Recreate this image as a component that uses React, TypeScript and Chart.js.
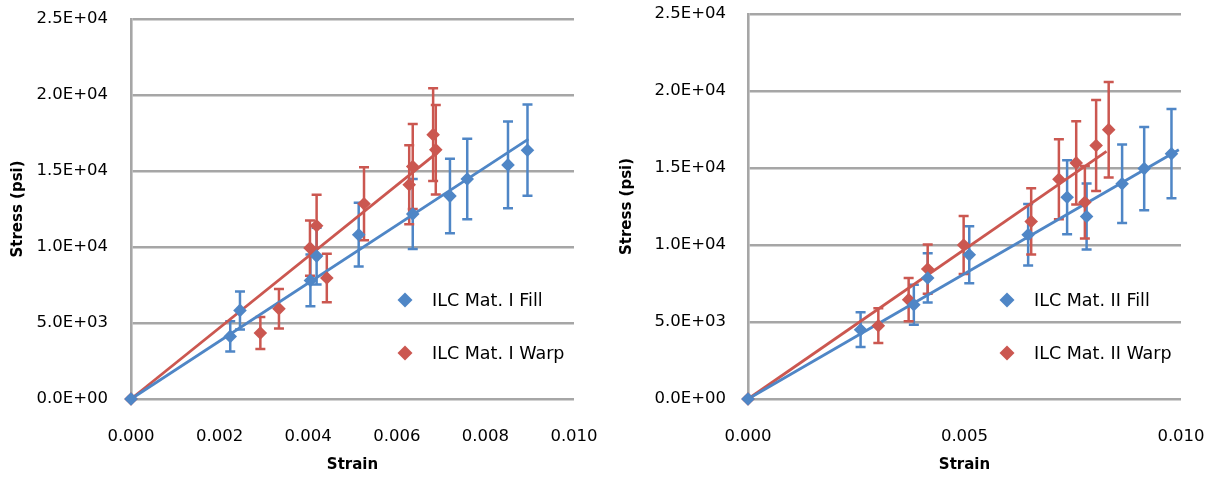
import React, { useEffect, useRef } from 'react';
import { Chart, registerables } from 'chart.js';

Chart.register(...registerables);

// ---------- Data: ILC Mat. I ----------
const m1FillStrain = [0, 0.00224, 0.00246, 0.00405, 0.00419, 0.00514, 0.00636, 0.0072, 0.00759, 0.00851, 0.00895];
const m1FillStress = [0, 4120, 5830, 7800, 9400, 10810, 12170, 13350, 14470, 15400, 16370];
const m1FillErr = [0, 1000, 1250, 1700, 1870, 2100, 2300, 2450, 2650, 2850, 3000];
const m1WarpStrain = [0, 0.00292, 0.00334, 0.00404, 0.00419, 0.00442, 0.00526, 0.00628, 0.00636, 0.00682, 0.00688];
const m1WarpStress = [0, 4340, 5940, 9930, 11400, 7960, 12850, 14100, 15300, 17390, 16400];
const m1WarpErr = [0, 1050, 1300, 1820, 2040, 1600, 2400, 2600, 2800, 3050, 2950];
const m1FillTrendX = [0, 0.00897];
const m1FillTrendY = [0, 17100];
const m1WarpTrendX = [0, 0.0069];
const m1WarpTrendY = [0, 16180];
const m1Labels = ['ILC Mat. I Fill', 'ILC Mat. I Warp'];
const m1XTicks = [0, 0.002, 0.004, 0.006, 0.008, 0.01];

// ---------- Data: ILC Mat. II ----------
const m2FillStrain = [0, 0.0026, 0.00383, 0.00415, 0.00511, 0.00647, 0.00737, 0.00782, 0.00864, 0.00915, 0.00978];
const m2FillStress = [0, 4500, 6120, 7860, 9370, 10670, 13100, 11850, 13980, 14960, 15930];
const m2FillErr = [0, 1130, 1300, 1600, 1850, 2000, 2400, 2150, 2550, 2700, 2900];
const m2WarpStrain = [0, 0.00301, 0.00371, 0.00415, 0.00498, 0.00654, 0.00718, 0.00758, 0.00778, 0.00804, 0.00833];
const m2WarpStress = [0, 4760, 6450, 8440, 10000, 11530, 14270, 15330, 12780, 16460, 17490];
const m2WarpErr = [0, 1130, 1400, 1600, 1880, 2150, 2600, 2700, 2350, 2950, 3100];
const m2FillTrendX = [0, 0.00995];
const m2FillTrendY = [0, 16190];
const m2WarpTrendX = [0, 0.00828];
const m2WarpTrendY = [0, 16080];
const m2Labels = ['ILC Mat. II Fill', 'ILC Mat. II Warp'];
const m2XTicks = [0, 0.005, 0.01];

const yTicks = [0, 5000, 10000, 15000, 20000, 25000];
const xTitle = 'Strain';
const yTitle = 'Stress (psi)';

const BLUE = '#4F86C6';
const RED = '#CB5750';
const GRID = '#A6A6A6';

const fmtExp = (v: number) => {
  if (v === 0) return '0.0E+00';
  const e = Math.floor(Math.log10(Math.abs(v)));
  const m = v / Math.pow(10, e);
  const sign = e < 0 ? '-' : '+';
  return m.toFixed(1) + 'E' + sign + String(Math.abs(e)).padStart(2, '0');
};

const zip = (xs: number[], ys: number[]) => xs.map((x, i) => ({ x, y: ys[i] }));

const errorBarPlugin = {
  id: 'errorBars',
  beforeDatasetsDraw(chart: any) {
    const { ctx } = chart;
    const xs = chart.scales.x;
    const ys = chart.scales.y;
    chart.data.datasets.forEach((ds: any) => {
      if (!ds.errY) return;
      ctx.save();
      ctx.strokeStyle = ds.borderColor;
      ctx.lineWidth = 2.5;
      ds.data.forEach((p: any, j: number) => {
        const e = ds.errY[j];
        if (!e) return;
        const x = xs.getPixelForValue(p.x);
        const y1 = ys.getPixelForValue(p.y + e);
        const y2 = ys.getPixelForValue(p.y - e);
        ctx.beginPath();
        ctx.moveTo(x, y1);
        ctx.lineTo(x, y2);
        ctx.moveTo(x - 5, y1);
        ctx.lineTo(x + 5, y1);
        ctx.moveTo(x - 5, y2);
        ctx.lineTo(x + 5, y2);
        ctx.stroke();
      });
      ctx.restore();
    });
  },
};

const cornerLegendPlugin = {
  id: 'cornerLegend',
  afterDraw(chart: any, _args: any, opts: any) {
    if (!opts || !opts.display) return;
    const { ctx, chartArea } = chart;
    const items = chart.data.datasets.filter((d: any) => d.inLegend);
    items.forEach((d: any, i: number) => {
      const cx = chartArea.right - opts.offsetRight;
      const cy = opts.top + i * opts.rowGap;
      const r = opts.radius;
      ctx.save();
      ctx.fillStyle = d.backgroundColor;
      ctx.beginPath();
      ctx.moveTo(cx, cy - r);
      ctx.lineTo(cx + r, cy);
      ctx.lineTo(cx, cy + r);
      ctx.lineTo(cx - r, cy);
      ctx.closePath();
      ctx.fill();
      ctx.fillStyle = '#000';
      ctx.font = opts.font;
      ctx.textBaseline = 'middle';
      ctx.textAlign = 'left';
      ctx.fillText(d.label, cx + opts.textGap, cy + 1);
      ctx.restore();
    });
  },
};

type Cfg = {
  width: number;
  fill: { x: number[]; y: number[]; e: number[]; tx: number[]; ty: number[] };
  warp: { x: number[]; y: number[]; e: number[]; tx: number[]; ty: number[] };
  labels: string[];
  xTicks: number[];
  area: { left: number; right: number; top: number; bottom: number };
  yLabelGap: number;
  yTitleOffset: number;
  legendOffset: number;
};

const zeroPad = (s: any) => {
  s.paddingTop = 0;
  s.paddingBottom = 0;
  s.paddingLeft = 0;
  s.paddingRight = 0;
};

function buildConfig(c: Cfg): any {
  const H = 478;
  const scatter = (lbl: string, s: any, col: string) => ({
    label: lbl,
    data: zip(s.x, s.y),
    errY: s.e,
    inLegend: true,
    backgroundColor: col,
    borderColor: col,
    pointStyle: 'rectRot',
    pointRadius: 6.8,
    pointHoverRadius: 6.8,
    pointBorderWidth: 0,
    showLine: false,
    clip: false,
    order: 1,
  });
  const trend = (s: any, col: string) => ({
    label: '',
    data: zip(s.tx, s.ty),
    inLegend: false,
    borderColor: col,
    backgroundColor: col,
    borderWidth: 2.8,
    pointRadius: 0,
    showLine: true,
    clip: false,
    order: 2,
  });
  return {
    type: 'scatter',
    data: {
      datasets: [
        scatter(c.labels[0], c.fill, BLUE),
        scatter(c.labels[1], c.warp, RED),
        trend(c.fill, BLUE),
        trend(c.warp, RED),
      ],
    },
    options: {
      responsive: false,
      animation: false,
      events: [],
      layout: { padding: { left: 0, top: c.area.top, right: c.width - c.area.right, bottom: 0 } },
      plugins: {
        legend: { display: false },
        tooltip: { enabled: false },
        cornerLegend: {
          display: true,
          offsetRight: c.legendOffset,
          top: 300,
          rowGap: 53,
          radius: 7.5,
          textGap: 27,
          font: '17.5px "DejaVu Sans"',
        },
      },
      scales: {
        x: {
          type: 'linear',
          min: 0,
          max: 0.01,
          afterFit: (s: any) => {
            s.height = H - c.area.bottom;
            zeroPad(s);
          },
          afterBuildTicks: (s: any) => {
            s.ticks = c.xTicks.map((v) => ({ value: v }));
          },
          grid: { display: false, drawTicks: false },
          border: { display: false },
          ticks: {
            padding: 28,
            color: '#000',
            font: { family: 'DejaVu Sans', size: 16.5 },
            maxRotation: 0,
            callback: (v: any) => Number(v).toFixed(3),
          },
          title: {
            display: true,
            text: xTitle,
            color: '#000',
            font: { family: 'DejaVu Sans', size: 15, weight: 'bold' },
            padding: { top: 0, bottom: 4 },
          },
        },
        y: {
          type: 'linear',
          min: 0,
          max: 25000,
          afterFit: (s: any) => {
            s.width = c.area.left;
            zeroPad(s);
          },
          afterBuildTicks: (s: any) => {
            s.ticks = yTicks.map((v) => ({ value: v }));
          },
          grid: { color: GRID, lineWidth: 2.6, drawTicks: false },
          border: { display: true, color: GRID, width: 2.6 },
          ticks: {
            padding: c.yLabelGap,
            color: '#000',
            font: { family: 'DejaVu Sans', size: 16.5 },
            callback: (v: any) => fmtExp(Number(v)),
          },
          title: {
            display: true,
            text: yTitle,
            color: '#000',
            font: { family: 'DejaVu Sans', size: 15, weight: 'bold' },
            padding: { top: c.yTitleOffset, bottom: 0 },
          },
        },
      },
    },
    plugins: [errorBarPlugin, cornerLegendPlugin],
  };
}

function ChartPanel({ cfg, left }: { cfg: Cfg; left: number }) {
  const ref = useRef<HTMLCanvasElement | null>(null);
  useEffect(() => {
    if (!ref.current) return;
    const chart = new Chart(ref.current, buildConfig(cfg));
    return () => chart.destroy();
  }, [cfg]);
  return (
    <canvas
      ref={ref}
      width={cfg.width}
      height={478}
      style={{ position: 'absolute', left, top: 0, width: cfg.width, height: 478 }}
    />
  );
}

const leftCfg: Cfg = {
  width: 610,
  fill: { x: m1FillStrain, y: m1FillStress, e: m1FillErr, tx: m1FillTrendX, ty: m1FillTrendY },
  warp: { x: m1WarpStrain, y: m1WarpStress, e: m1WarpErr, tx: m1WarpTrendX, ty: m1WarpTrendY },
  labels: m1Labels,
  xTicks: m1XTicks,
  area: { left: 131, right: 574, top: 19, bottom: 399 },
  yLabelGap: 23,
  yTitleOffset: 9.5,
  legendOffset: 169,
};

const rightCfg: Cfg = {
  width: 609,
  fill: { x: m2FillStrain, y: m2FillStress, e: m2FillErr, tx: m2FillTrendX, ty: m2FillTrendY },
  warp: { x: m2WarpStrain, y: m2WarpStress, e: m2WarpErr, tx: m2WarpTrendX, ty: m2WarpTrendY },
  labels: m2Labels,
  xTicks: m2XTicks,
  area: { left: 138, right: 571, top: 14, bottom: 399 },
  yLabelGap: 22,
  yTitleOffset: 8,
  legendOffset: 174,
};

export default function App() {
  return (
    <div
      style={{
        position: 'fixed',
        left: 0,
        top: 0,
        width: 1219,
        height: 478,
        background: '#fff',
        overflow: 'hidden',
      }}
    >
      <ChartPanel cfg={leftCfg} left={0} />
      <ChartPanel cfg={rightCfg} left={610} />
    </div>
  );
}
